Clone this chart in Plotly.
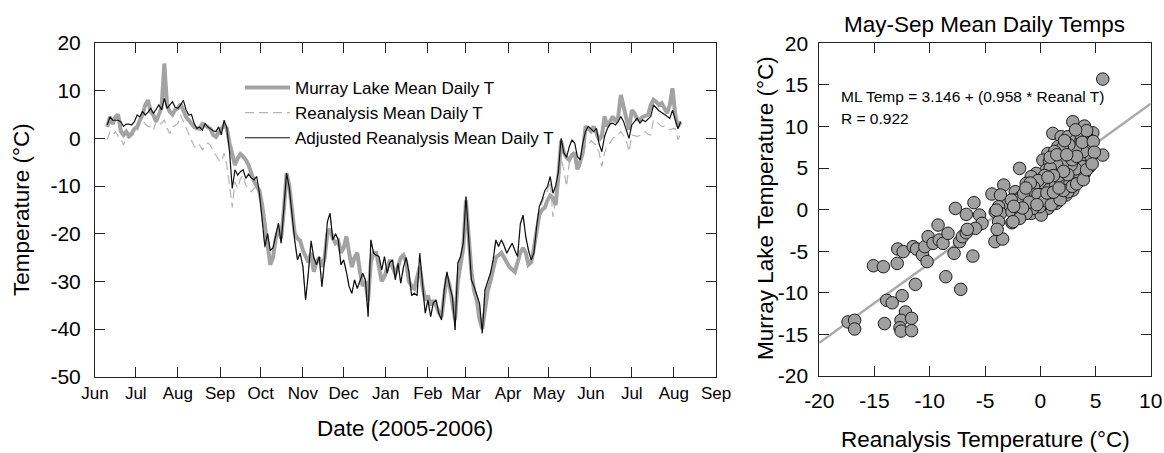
import pandas as pd
import plotly.graph_objects as go

# ---------------- data: daily temperature series (sampled every 2 days) ----------------
SERIES_START = "2005-06-10"
SERIES_STEP = "2D"

murray_lake = [
    2.4, 4.5, 3.0, 4.5, 5.0, 1.5, 0.7, 1.4, 0.5, 1.0,
    2.0, 2.4, 3.8, 5.0, 7.0, 8.0, 5.6, 4.9, 3.5, 5.0,
    6.5, 15.7, 7.0, 5.6, 5.0, 6.0, 6.3, 7.2, 5.6, 4.5,
    3.8, 3.0, 2.4, 2.1, 2.0, 3.0, 2.8, 2.4, 2.0, 0.7,
    0.3, 1.0, 2.0, 2.8, 2.1, -1.0, -3.5, -5.6, -4.2, -3.3,
    -3.8, -4.5, -5.6, -7.5, -9.0, -10.0, -11.0, -14.0, -18.0, -22.0,
    -26.5, -25.0, -21.0, -19.0, -21.0, -15.0, -7.3, -10.0, -15.0, -20.0,
    -21.0, -21.5, -23.5, -25.0, -26.0, -24.0, -28.0, -26.0, -25.0, -27.0,
    -25.0, -20.0, -19.0, -21.0, -22.0, -21.5, -24.0, -23.0, -20.6, -24.0,
    -27.0, -25.0, -24.0, -28.0, -31.0, -30.0, -34.0, -26.0, -24.0, -24.0,
    -27.0, -30.0, -29.0, -27.0, -25.5, -27.0, -28.5, -27.0, -25.0, -24.5,
    -26.0, -30.0, -31.0, -31.5, -29.0, -27.0, -31.0, -34.0, -33.0, -35.0,
    -34.0, -35.0, -36.5, -37.5, -33.0, -29.0, -31.0, -35.0, -38.0, -30.0,
    -26.0, -23.0, -13.0, -22.0, -28.0, -32.0, -34.0, -38.0, -40.0, -36.0,
    -32.0, -30.0, -27.0, -25.0, -24.5, -24.0, -25.0, -26.0, -27.0, -27.5,
    -28.0, -26.0, -24.0, -23.0, -24.0, -26.5, -26.0, -23.0, -20.0, -16.0,
    -15.0, -14.5, -13.0, -12.0, -12.5, -14.0, -8.0, -0.5, -3.0, -4.0,
    -4.5, -3.5, -3.0, -6.5, -5.0, -3.0, 2.5, 2.0, 1.5, 2.5,
    1.0, -0.3, 0.5, 4.6, 2.5, 3.5, 4.6, 3.5, 4.5, 9.1,
    6.5, 4.0, 1.8, 5.9, 5.3, 4.0, 3.9, 4.5, 4.6, 4.9,
    7.0, 8.1, 7.7, 7.0, 7.4, 6.5, 5.3, 7.0, 10.5, 5.0,
    2.5, 3.5,
]

reanalysis = [
    -0.3, 1.4, 0.7, 1.4, 0.5, 0.0, -1.4, 0.3, 0.0, 0.5,
    0.8, 1.4, 3.1, 3.8, 3.0, 2.5, 2.4, 1.7, 3.5, 2.8,
    3.2, 3.8, 2.1, 1.0, 2.4, 2.8, 3.1, 4.9, 3.5, 2.4,
    1.0, -0.5, -1.7, -2.1, -1.4, -2.4, -1.5, -1.0, -1.4, -2.8,
    -3.5, -4.5, -4.9, -3.1, -5.6, -9.8, -14.5, -9.1, -10.5, -8.5,
    -7.7, -9.8, -10.5, -11.2, -10.5, -10.0, -12.5, -17.0, -23.0, -20.5,
    -23.5, -23.0, -20.5, -17.8, -22.0, -15.0, -7.3, -10.5, -16.5, -21.5,
    -25.5, -24.1, -26.9, -33.9, -28.3, -21.5, -25.0, -26.5, -24.8, -31.1,
    -25.5, -17.5, -15.7, -21.3, -20.0, -21.3, -26.5, -25.5, -28.0, -31.1,
    -32.5, -29.7, -31.5, -30.0, -28.3, -29.7, -37.4, -21.3, -24.1, -24.5,
    -24.8, -27.6, -24.8, -28.3, -26.0, -25.5, -29.7, -26.2, -30.4, -27.0,
    -25.0, -28.0, -33.0, -32.5, -33.0, -24.1, -31.1, -36.7, -33.9, -37.4,
    -34.5, -33.9, -36.7, -38.1, -31.8, -28.0, -31.0, -33.2, -40.2, -26.2,
    -24.8, -22.0, -12.2, -21.3, -29.7, -31.1, -33.0, -34.6, -40.9, -31.8,
    -30.0, -28.3, -25.5, -21.3, -22.7, -21.3, -22.5, -24.1, -23.0, -22.0,
    -23.5, -24.8, -18.0, -16.1, -20.6, -23.5, -25.5, -24.1, -18.5, -14.3,
    -13.5, -12.0, -11.0, -9.0, -16.5, -12.5, -10.0, -4.0, -6.6, -10.1,
    -5.0, -4.5, -4.5, -6.6, -6.0, -3.0, -1.5, -1.5, -0.5, -1.0,
    -1.5, -3.0, -5.9, -3.0, -1.5, -1.0, 0.0, 0.4, 0.8, 1.4,
    0.6, -0.5, -2.8, 0.7, 0.5, 0.4, 0.6, 1.2, 1.4, 0.8,
    0.7, 3.9, 3.5, 3.0, 2.5, 2.5, 2.2, 1.8, 2.0, 2.1,
    -0.3, 1.0,
]

adjusted_reanalysis = [
    2.8, 4.5, 3.8, 3.8, 3.8, 3.5, 2.5, 3.0, 3.0, 2.8,
    3.5, 4.9, 4.5, 5.6, 4.9, 5.5, 6.3, 5.2, 6.0, 7.0,
    6.0, 8.4, 6.3, 7.0, 7.7, 6.5, 6.3, 7.0, 8.0, 6.0,
    4.9, 5.0, 3.1, 2.1, 2.4, 1.7, 3.1, 2.4, 1.9, 1.6,
    1.4, 2.4, 0.7, 3.8, 2.2, -2.8, -10.5, -6.6, -7.7, -7.0,
    -6.6, -8.4, -7.5, -8.3, -8.7, -8.0, -11.5, -16.5, -22.7, -20.0,
    -23.5, -23.0, -20.5, -17.8, -22.0, -15.0, -7.3, -10.5, -16.5, -21.5,
    -25.5, -24.1, -26.9, -33.9, -28.3, -21.5, -25.0, -26.5, -24.8, -31.1,
    -25.5, -17.5, -15.7, -21.3, -20.0, -21.3, -26.5, -25.5, -28.0, -31.1,
    -32.5, -29.7, -31.5, -30.0, -28.3, -29.7, -37.4, -21.3, -24.1, -24.5,
    -24.8, -27.6, -24.8, -28.3, -26.0, -25.5, -29.7, -26.2, -30.4, -27.0,
    -25.0, -28.0, -33.0, -32.5, -33.0, -24.1, -31.1, -36.7, -33.9, -37.4,
    -34.5, -33.9, -36.7, -38.1, -31.8, -28.0, -31.0, -33.2, -40.2, -26.2,
    -24.8, -22.0, -12.2, -21.3, -29.7, -31.1, -33.0, -34.6, -40.9, -31.8,
    -30.0, -28.3, -25.5, -21.3, -22.7, -21.3, -22.5, -24.1, -23.0, -22.0,
    -23.5, -24.8, -18.0, -16.1, -20.6, -23.5, -25.5, -24.1, -18.5, -14.3,
    -12.9, -11.0, -10.1, -8.0, -11.5, -10.0, -7.0, 0.0, -3.0, -4.0,
    -1.8, -0.3, -1.0, -3.8, -4.5, -1.0, 1.5, 2.5, 2.0, 1.4,
    2.1, -1.2, -2.8, 0.4, 2.0, 3.0, 3.2, 2.8, 3.5, 4.6,
    3.5, 1.5, 0.0, 2.8, 3.5, 4.2, 3.2, 3.9, 3.5, 4.0,
    4.6, 7.0, 6.3, 5.8, 5.4, 5.0, 4.6, 4.2, 5.9, 4.0,
    2.0, 3.5,
]

month_ticks = ["2005-06-01", "2005-07-01", "2005-08-01", "2005-09-01", "2005-10-01",
               "2005-11-01", "2005-12-01", "2006-01-01", "2006-02-01", "2006-03-01",
               "2006-04-01", "2006-05-01", "2006-06-01", "2006-07-01", "2006-08-01",
               "2006-09-01"]
month_labels = ["Jun", "Jul", "Aug", "Sep", "Oct", "Nov", "Dec", "Jan", "Feb", "Mar",
                "Apr", "May", "Jun", "Jul", "Aug", "Sep"]

ts_y_ticks = [-50, -40, -30, -20, -10, 0, 10, 20]
sc_x_ticks = [-20, -15, -10, -5, 0, 5, 10]
sc_y_ticks = [-20, -15, -10, -5, 0, 5, 10, 15, 20]

# ---------------- data: May-Sep scatter ----------------
scatter_reanalysis = [
    -17.4, -16.8, -16.8, -15.1, -14.2, -14.1, -12.95, -12.9, -12.4, -13.9,
    -13.4, -12.5, -12.2, -12.6, -12.7, -12.6, -11.65, -11.65, -11.3, -11.5,
    -11.2, -10.66, -10.45, -10.24, -10.15, -9.7, -9.15, -8.8, -8.35, -8.55,
    -7.8, -7.3, -7.2, -7.05, -6.7, -6.1, -4.1, -3.4,
    -3.3, -4.37, -3.6, -2.26, -2.4, -3.0, -3.77, -4.07, -3.6, -2.56,
    -3.77, -2.56, -3.9, -6.0, -7.68, -6.69, -5.5, -5.27, -5.87, -6.6, -9.25,
    2.95, 3.7, 1.14, 1.9, 2.5, 3.25, 1.6, 2.35, 0.69, 1.29,
    2.95, 3.4, 0.24, 0.84, 1.9, 2.5, 3.25, 2.35, 1.6, 0.54,
    -0.36, 1.14, 0.24, -0.82, -1.87, 1.75, 2.65, 2.8, 0.54, -0.36,
    -1.27, -0.82, 0.09, 1.14, 1.9, 0.99, -0.06, -1.12, -1.72, -2.17,
    -1.42, -0.52, 0.54, 1.44, 2.35, -1.72,
    5.66, 5.66, 4.0, 4.76, 4.31, 3.7, 4.46, 3.55, 4.0, 4.31,
    3.55, 4.46, 3.85, 4.0,
    0.54, 0.99, 0.24, -0.36, -0.81, -1.42, -2.02, -2.62, -0.36, 0.24,
    0.84, 1.45, 1.9, 1.15, 1.75, 2.2, 2.65, 1.0, 2.05, 1.45,
    0.69, -0.81, 0.09, 2.95, 2.5, 1.6, 1.15, 0.54, -0.06, -0.66,
    -1.27, -1.87, -2.47, -3.97,
    0.3, 0.8, 1.4, 1.9, 2.3, 2.7, 3.1, 3.5, 3.2, 2.8,
    2.1, 1.5, 0.9, 0.4, -0.2, -0.6, -1.0, -1.5, -0.2, 0.4,
    1.0, 1.8, 2.1, 2.9, 3.3, 3.9, 4.2, 4.6, 3.9, 3.2,
    2.6, 2.0, 1.3, 0.9, 1.5, 2.9, 3.3, 2.4, 3.7, 4.2,
    3.2, 2.2, -1.0, -0.3, -1.6, -2.4, 0.6, 1.2, 1.7, 2.5,
    2.1, 1.2, 0.7, -0.9, -1.3, 3.8, 4.8, 4.9, 4.7,
]
scatter_murray = [
    -13.5, -13.3, -14.35, -6.74, -6.86, -13.7, -6.46, -4.73, -5.05, -10.9,
    -11.2, -10.34, -12.3, -13.3, -14.2, -14.6, -13.07, -14.55, -8.98, -4.45,
    -4.73, -5.45, -4.45, -6.25, -3.25, -4.05, -3.65, -4.05, -2.85, -8.06,
    -5.25, -3.85, -9.58, -3.25, -2.77, -5.58, -3.85, -3.53,
    2.96, 1.88, 1.76, 2.16, 1.16, 0.56, 0.36, -0.25, -0.45, -0.25,
    -1.45, -1.57, -2.37, 0.84, 0.15, -0.57, -0.65, -1.65, -2.25, -2.37, -1.85,
    10.57, 9.57, 9.17, 8.77, 8.77, 8.37, 7.57, 7.17, 6.76, 6.36,
    7.17, 6.76, 5.96, 5.76, 6.16, 5.96, 5.56, 4.96, 4.76, 4.76,
    4.36, 3.96, 3.76, 3.96, 4.96, 3.96, 3.96, 2.76, 3.16, 2.96,
    3.16, 2.16, 2.56, 2.56, 1.96, 1.36, 1.36, 1.16, 1.56, 0.36,
    0.56, 0.36, 0.56, 0.76, 1.76, -0.45,
    15.7, 6.56, 10.05, 9.24, 8.56, 8.36, 7.56, 7.56, 6.76, 5.96,
    5.96, 5.16, 5.16, 4.36,
    3.55, 2.95, 2.75, 2.15, 1.55, 1.35, 1.15, 1.15, 1.15, 1.55,
    2.15, 4.36, 5.16, 5.96, 6.36, 6.96, 6.36, 4.96, 3.55, 1.15,
    0.15, -0.45, -0.65, 2.35, 2.15, 1.95, 1.35, 0.75, 0.35, 0.15,
    -0.45, -1.05, -1.45, -0.05,
    3.2, 2.4, 3.0, 3.3, 2.9, 3.3, 3.8, 4.4, 4.9, 5.4,
    5.7, 5.4, 5.0, 4.1, 3.5, 2.7, 2.3, 1.9, 1.8, 1.1,
    0.6, 1.2, 2.3, 2.8, 3.1, 3.6, 4.8, 6.4, 7.0, 7.4,
    7.8, 7.4, 7.0, 6.3, 6.6, 6.0, 6.4, 6.6, 9.0, 9.5,
    9.6, 8.3, 0.9, 0.6, 0.2, 0.4, 2.0, 2.1, 2.6, 4.2,
    4.6, 4.1, 3.9, 3.2, 2.6, 8.1, 8.2, 6.9, 5.5,
]

REG_INTERCEPT = 3.146
REG_SLOPE = 0.958
REG_R = 0.922
SCATTER_X_RANGE = [-20, 10]

# ---------------- figure ----------------
W, H = 1164, 453
FONT = "Liberation Sans, Arial, sans-serif"
TICK_SIZE = 21


def num_labels(vals):
    return [str(v) for v in vals]


dates = pd.date_range(SERIES_START, periods=len(murray_lake), freq=SERIES_STEP)

fig = go.Figure()

fig.add_trace(go.Scatter(
    x=dates, y=reanalysis, mode="lines", name="Reanalysis Mean Daily T",
    line=dict(color="#b3b3b3", width=1.2, dash="9px,5px"),
    legendrank=2, legendgroup="b", xaxis="x", yaxis="y"))
fig.add_trace(go.Scatter(
    x=dates, y=murray_lake, mode="lines", name="Murray Lake Mean Daily T",
    line=dict(color="#a3a3a3", width=4),
    legendrank=1, legendgroup="a", xaxis="x", yaxis="y"))
fig.add_trace(go.Scatter(
    x=dates, y=adjusted_reanalysis, mode="lines", name="Adjusted Reanalysis Mean Daily T",
    line=dict(color="#111111", width=1.2),
    legendrank=3, legendgroup="c", xaxis="x", yaxis="y"))

reg_y = [REG_INTERCEPT + REG_SLOPE * v for v in SCATTER_X_RANGE]
fig.add_trace(go.Scatter(
    x=SCATTER_X_RANGE, y=reg_y, mode="lines", showlegend=False,
    line=dict(color="#ababab", width=2.5), xaxis="x2", yaxis="y2"))
fig.add_trace(go.Scatter(
    x=scatter_reanalysis, y=scatter_murray, mode="markers", showlegend=False,
    marker=dict(size=12.5, color="#a0a0a0", line=dict(color="#1a1a1a", width=1)),
    xaxis="x2", yaxis="y2"))

axis_common = dict(showline=True, linecolor="#222222", linewidth=1, mirror="ticks",
                   ticks="inside", ticklen=10, tickcolor="#222222", tickwidth=1,
                   showgrid=False, zeroline=False, automargin=False)

fig.update_layout(
    width=W, height=H, margin=dict(l=0, r=0, t=0, b=0),
    paper_bgcolor="white", plot_bgcolor="white",
    font=dict(family=FONT, color="#000000"),
    showlegend=True,
    legend=dict(x=240 / W, y=1 - 70 / H, xanchor="left", yanchor="top",
                bgcolor="rgba(0,0,0,0)", font=dict(size=17, family=FONT),
                traceorder="grouped", tracegroupgap=0, itemwidth=45),
    xaxis=dict(domain=[95 / W, 716 / W], type="date",
               range=[month_ticks[0], month_ticks[-1]],
               tickvals=month_ticks, ticktext=month_labels, anchor="y",
               tickfont=dict(family=FONT, size=17, color="#000"),
               ticklabelstandoff=1, **axis_common),
    yaxis=dict(domain=[1 - 376.7 / H, 1 - 43 / H], range=[-50, 20],
               tickvals=ts_y_ticks, ticktext=num_labels(ts_y_ticks), anchor="x",
               tickfont=dict(family=FONT, size=TICK_SIZE, color="#000"),
               ticklabelstandoff=9, **axis_common),
    xaxis2=dict(domain=[819.3 / W, 1150.7 / W], range=SCATTER_X_RANGE,
                tickvals=sc_x_ticks, ticktext=num_labels(sc_x_ticks), anchor="y2",
                tickfont=dict(family=FONT, size=TICK_SIZE, color="#000"),
                ticklabelstandoff=6, **axis_common),
    yaxis2=dict(domain=[1 - 376 / H, 1 - 43.3 / H], range=[-20, 20],
                tickvals=sc_y_ticks, ticktext=num_labels(sc_y_ticks), anchor="x2",
                tickfont=dict(family=FONT, size=TICK_SIZE, color="#000"),
                ticklabelstandoff=6, **axis_common),
)

TITLE_SIZE = 22.5
annos = [
    dict(text="Date (2005-2006)", x=405 / W, y=1 - 428 / H, size=TITLE_SIZE, angle=0, xanchor="center"),
    dict(text="Temperature (°C)", x=22 / W, y=1 - 210 / H, size=TITLE_SIZE, angle=-90, xanchor="center"),
    dict(text="May-Sep Mean Daily Temps", x=984 / W, y=1 - 24 / H, size=TITLE_SIZE, angle=0, xanchor="center"),
    dict(text="Reanalysis Temperature (°C)", x=985 / W, y=1 - 439 / H, size=TITLE_SIZE, angle=0, xanchor="center"),
    dict(text="Murray Lake Temperature (°C)", x=765 / W, y=1 - 208 / H, size=TITLE_SIZE, angle=-90, xanchor="center"),
    dict(text=f"ML Temp = {REG_INTERCEPT} + ({REG_SLOPE} * Reanal T)", x=839 / W, y=1 - 97 / H,
         size=15.5, angle=0, xanchor="left"),
    dict(text=f"R = {REG_R}", x=839 / W, y=1 - 118 / H, size=15.5, angle=0, xanchor="left"),
]
for a in annos:
    fig.add_annotation(text=a["text"], x=a["x"], y=a["y"], xref="paper", yref="paper",
                       xanchor=a["xanchor"], yanchor="middle", textangle=a["angle"],
                       showarrow=False, font=dict(family=FONT, size=a["size"], color="#000"))

fig.write_html("out.html", config={"displayModeBar": False},
               post_script="document.body.style.margin='0px';")
